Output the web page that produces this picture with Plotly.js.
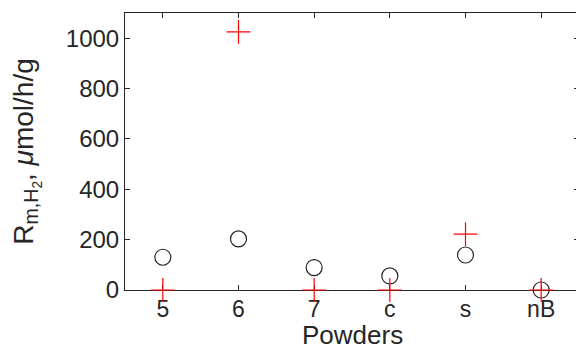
<!DOCTYPE html>
<html><head><meta charset="utf-8">
<script src="https://cdn.plot.ly/plotly-3.0.1.min.js"></script>
<style>html,body{margin:0;padding:0;overflow:hidden;background:#fff;width:576px;height:350px}</style>
</head><body><div id="chart" style="width:580px;height:350px"></div>
<script>
const categories = ["5", "6", "7", "c", "s", "nB"];
const circleValues = [130, 203, 89, 56, 139, 0];
const plusValues = [0, 1025, 0, 0, 222, 0];
const yTicks = [0, 200, 400, 600, 800, 1000];
const xTitle = 'Powders';
const yTitle = 'R<sub>m,H<sub>2</sub></sub>, <i>μ</i>mol/h/g';

const xIdx = categories.map((_, i) => i + 1);
const axisColor = '#262626';
const fam = 'Liberation Sans, Arial, sans-serif';
const font = {family: fam, size: 24, color: axisColor};

const traces = [
  {x: xIdx, y: circleValues, type: 'scatter', mode: 'markers', cliponaxis: false,
   marker: {symbol: 'circle-open', size: 16, color: axisColor, line: {width: 1.2, color: axisColor}}},
  {x: xIdx, y: plusValues, type: 'scatter', mode: 'markers', cliponaxis: false,
   marker: {symbol: 'cross-thin-open', size: 17, color: '#ff0000', line: {width: 1.2, color: '#ff0000'}}}
];

const layout = {
  width: 580, height: 350,
  margin: {l: 125, r: 1, t: 13, b: 60},
  showlegend: false,
  paper_bgcolor: '#fff', plot_bgcolor: '#fff',
  font: font,
  xaxis: {
    range: [0.5, 6.5], tickvals: xIdx, ticktext: categories,
    showgrid: false, zeroline: false, showline: true, linecolor: axisColor, linewidth: 1,
    mirror: 'ticks', ticks: 'inside', ticklen: 5, tickcolor: axisColor,
    tickfont: {family: fam, size: 23, color: axisColor}, ticklabelstandoff: -2,
    layer: 'below traces'
  },
  yaxis: {
    range: [0, 1100], tickvals: yTicks,
    showgrid: false, zeroline: false, showline: true, linecolor: axisColor, linewidth: 1,
    mirror: 'ticks', ticks: 'inside', ticklen: 5, tickcolor: axisColor,
    tickfont: font, layer: 'below traces',
    title: {text: yTitle, font: {family: fam, size: 28, color: axisColor}, standoff: 24}
  },
  annotations: [{
    text: xTitle, xref: 'paper', yref: 'paper', x: 0.5, y: -0.2202,
    xanchor: 'center', yanchor: 'bottom', showarrow: false, borderpad: 0,
    font: {family: fam, size: 26, color: axisColor}
  }]
};

Plotly.newPlot('chart', traces, layout, {displayModeBar: false, staticPlot: true});
</script></body></html>
